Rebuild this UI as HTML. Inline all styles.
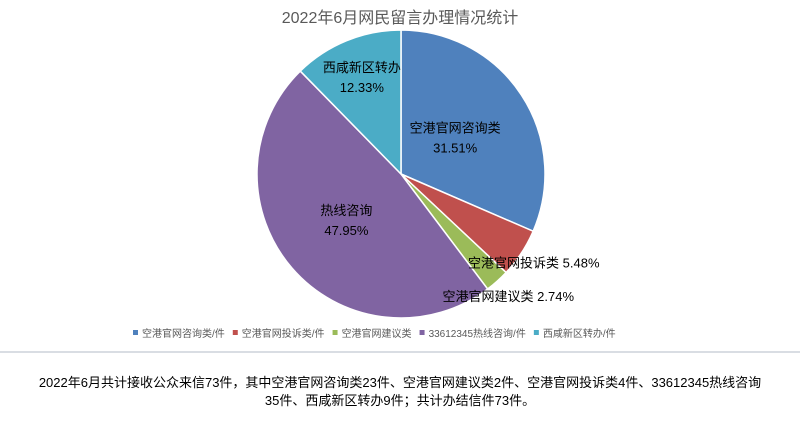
<!DOCTYPE html>
<html><head><meta charset="utf-8"><style>
body{margin:0;background:#fff;width:800px;height:430px;overflow:hidden;font-family:"Liberation Sans","Noto Sans CJK SC",sans-serif;}
svg{position:absolute;left:0;top:0}
.note{position:absolute;left:0;top:374px;width:800px;text-align:center;font-size:13px;line-height:18px;color:#000;font-family:"Liberation Sans","Noto Sans CJK SC",sans-serif;}
</style></head><body>
<svg width="800" height="430">
<text x="400" y="23" text-anchor="middle" font-size="16" fill="#595959">2022年6月网民留言办理情况统计</text>
<g id="slices"></g>
<g id="labels"></g>
<g id="legend"></g>
<line x1="0" y1="352" x2="800" y2="352" stroke="#d9dde3" stroke-width="2"/>
</svg>
<div class="note">2022年6月共计接收公众来信73件，其中空港官网咨询类23件、空港官网建议类2件、空港官网投诉类4件、33612345热线咨询<br>35件、西咸新区转办9件；共计办结信件73件。</div>
<script>
const categories=["空港官网咨询类","空港官网投诉类","空港官网建议类","热线咨询","西咸新区转办"];
const legendNames=["空港官网咨询类/件","空港官网投诉类/件","空港官网建议类","33612345热线咨询/件","西咸新区转办/件"];
const values=[23,4,2,35,9];
const pctLabels=["31.51%","5.48%","2.74%","47.95%","12.33%"];
const colors=["#4f81bd","#c0504d","#9bbb59","#8064a2","#4bacc6"];
const NS="http://www.w3.org/2000/svg";
const cx=401,cy=174,r=144;
const total=values.reduce((a,b)=>a+b,0);
const sg=document.getElementById('slices'),lg=document.getElementById('labels'),leg=document.getElementById('legend');
function pt(a,rr){return [cx+rr*Math.sin(a),cy-rr*Math.cos(a)];}
let acc=0;
const labelPos=[[0.45,false],[1.0,true],[1.0,true],[0.5,false],[0.72,false]];
values.forEach((v,i)=>{
  const a0=acc/total*2*Math.PI;acc+=v;const a1=acc/total*2*Math.PI;
  const p0=pt(a0,r),p1=pt(a1,r);
  const p=document.createElementNS(NS,'path');
  p.setAttribute('d',`M${cx},${cy}L${p0[0]},${p0[1]}A${r},${r} 0 ${a1-a0>Math.PI?1:0} 1 ${p1[0]},${p1[1]}Z`);
  p.setAttribute('fill',colors[i]);p.setAttribute('stroke','#fff');p.setAttribute('stroke-width','1.5');
  
  
  sg.appendChild(p);
  const am=(a0+a1)/2;
  const t=document.createElementNS(NS,'text');
  t.setAttribute('font-size','13');t.setAttribute('fill','#000');
  
  
  if(labelPos[i][1]){
    const q=pt(am,r+8);
    t.setAttribute('x',q[0]-60);t.setAttribute('y',q[1]+(i==1?10:14));
    t.textContent=categories[i]+' '+pctLabels[i];
  }else{
    const q=pt(am,r*labelPos[i][0]);
    t.setAttribute('text-anchor','middle');
    t.innerHTML=`<tspan x="${q[0]}" y="${q[1]-6}">${categories[i]}</tspan><tspan x="${q[0]}" y="${q[1]+14}">${pctLabels[i]}</tspan>`;
  }
  lg.appendChild(t);
});
let lx=133;
legendNames.forEach((n,i)=>{
  const g=document.createElementNS(NS,'g');
  
  
  const s=document.createElementNS(NS,'rect');
  s.setAttribute('x',lx);s.setAttribute('y',330);s.setAttribute('width',5);s.setAttribute('height',5);s.setAttribute('fill',colors[i]);
  const t=document.createElementNS(NS,'text');
  t.setAttribute('x',lx+9);t.setAttribute('y',337);t.setAttribute('font-size','10');t.setAttribute('fill','#595959');
  t.textContent=n;
  g.appendChild(s);g.appendChild(t);leg.appendChild(g);
  lx+=9+t.getComputedTextLength()+8;
});
</script>
</body></html>
